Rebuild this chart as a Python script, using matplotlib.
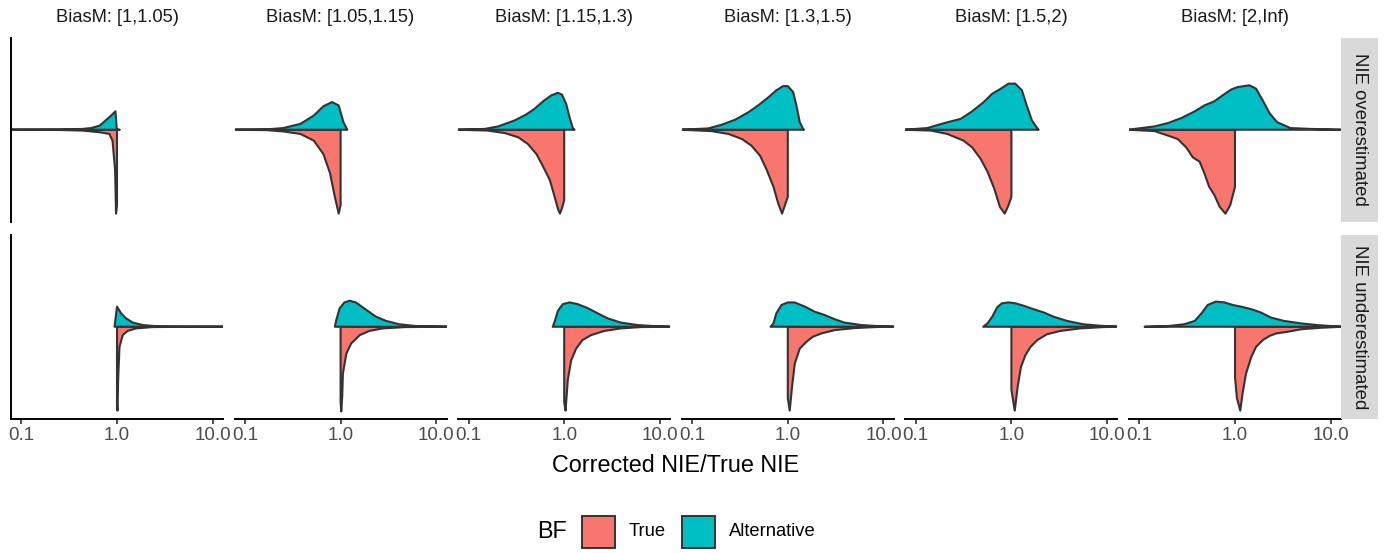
import numpy as np
import matplotlib.pyplot as plt
from matplotlib.patches import Rectangle

# facet labels
bias_labels = ["BiasM: [1,1.05)", "BiasM: [1.05,1.15)", "BiasM: [1.15,1.3)",
               "BiasM: [1.3,1.5)", "BiasM: [1.5,2)", "BiasM: [2,Inf)"]
row_labels = ["NIE overestimated", "NIE underestimated"]
bf_labels = ["True", "Alternative"]
bf_colors = ["#F8766D", "#00BFC4"]

# densities: x = log10(Corrected NIE/True NIE), h = scaled density
# "Alternative" is drawn upwards, "True" downwards
over_alt_x = [
    [-1.12, -0.6, -0.36, -0.27, -0.18, -0.08, -0.016, -0.002, 0.026],
    [-1.12, -0.77, -0.6, -0.42, -0.28, -0.18, -0.09, -0.02, 0.03, 0.07],
    [-1.12, -0.83, -0.69, -0.52, -0.40, -0.31, -0.22, -0.135, -0.066, -0.024, 0.02, 0.056, 0.09, 0.108],
    [-1.12, -0.83, -0.69, -0.55, -0.41, -0.31, -0.20, -0.12, -0.05, 0.0, 0.056, 0.09, 0.125, 0.16, 0.17],
    [-1.12, -0.88, -0.70, -0.53, -0.41, -0.29, -0.20, -0.11, -0.03, 0.04, 0.11, 0.16, 0.215, 0.27, 0.285],
    [-1.12, -0.84, -0.70, -0.56, -0.42, -0.32, -0.215, -0.13, -0.04, 0.03, 0.15, 0.22, 0.29, 0.36, 0.44, 0.58, 0.79, 1.12],
]
over_alt_h = [
    [0, 0.003, 0.01, 0.02, 0.05, 0.15, 0.22, 0.0, 0.0],
    [0, 0.005, 0.02, 0.07, 0.17, 0.28, 0.33, 0.29, 0.09, 0],
    [0, 0.01, 0.04, 0.11, 0.18, 0.25, 0.34, 0.41, 0.44, 0.42, 0.31, 0.15, 0.02, 0],
    [0, 0.016, 0.06, 0.12, 0.21, 0.29, 0.39, 0.47, 0.52, 0.52, 0.45, 0.29, 0.09, 0.01, 0],
    [0, 0.02, 0.08, 0.13, 0.22, 0.33, 0.43, 0.49, 0.55, 0.55, 0.47, 0.29, 0.11, 0.02, 0],
    [0, 0.04, 0.08, 0.14, 0.22, 0.29, 0.34, 0.41, 0.48, 0.51, 0.53, 0.49, 0.35, 0.20, 0.09, 0.02, 0.01, 0],
]
over_true_x = [
    [-1.12, -0.6, -0.36, -0.18, -0.08, -0.047, -0.02, -0.01, 0.0, 0.0],
    [-1.12, -0.77, -0.6, -0.42, -0.28, -0.18, -0.11, -0.06, -0.02, 0.0, 0.0],
    [-1.12, -0.80, -0.62, -0.48, -0.38, -0.29, -0.22, -0.15, -0.10, -0.066, -0.045, -0.024, 0.0, 0.0],
    [-1.12, -0.80, -0.62, -0.48, -0.38, -0.29, -0.22, -0.15, -0.10, -0.06, -0.03, 0.0, 0.0],
    [-1.12, -0.84, -0.67, -0.50, -0.41, -0.32, -0.25, -0.18, -0.12, -0.07, -0.03, 0.0, 0.0],
    [-1.12, -0.84, -0.70, -0.60, -0.51, -0.44, -0.37, -0.32, -0.27, -0.215, -0.16, -0.10, -0.05, 0.0, 0.0],
]
over_true_h = [
    [0, 0.003, 0.01, 0.03, 0.05, 0.13, 0.48, 1.0, 0.9, 0],
    [0, 0.005, 0.02, 0.05, 0.13, 0.29, 0.52, 0.8, 1.0, 0.9, 0],
    [0, 0.01, 0.04, 0.09, 0.17, 0.29, 0.44, 0.60, 0.80, 0.94, 1.0, 0.94, 0.84, 0],
    [0, 0.016, 0.05, 0.11, 0.19, 0.31, 0.48, 0.68, 0.88, 1.0, 0.9, 0.8, 0],
    [0, 0.01, 0.05, 0.13, 0.21, 0.35, 0.50, 0.70, 0.92, 1.0, 0.9, 0.8, 0],
    [0, 0.016, 0.07, 0.11, 0.21, 0.33, 0.38, 0.52, 0.68, 0.78, 0.92, 1.0, 0.9, 0.68, 0],
]
under_alt_x = [
    [-0.026, 0.0, 0.043, 0.095, 0.165, 0.27, 0.44, 0.7, 1.12],
    [-0.06, -0.045, -0.01, 0.04, 0.094, 0.16, 0.27, 0.37, 0.475, 0.61, 0.79, 1.12],
    [-0.12, -0.10, -0.066, -0.014, 0.056, 0.14, 0.25, 0.35, 0.455, 0.59, 0.77, 0.94, 1.12],
    [-0.18, -0.15, -0.12, -0.066, 0.0, 0.07, 0.18, 0.28, 0.385, 0.49, 0.59, 0.77, 0.94, 1.12],
    [-0.295, -0.25, -0.20, -0.15, -0.10, -0.03, 0.04, 0.13, 0.23, 0.34, 0.44, 0.58, 0.75, 0.93, 1.12],
    [-0.945, -0.70, -0.53, -0.42, -0.35, -0.285, -0.20, -0.11, -0.024, 0.06, 0.17, 0.27, 0.375, 0.51, 0.69, 0.86, 1.12],
]
under_alt_h = [
    [0, 0.24, 0.16, 0.10, 0.05, 0.02, 0.004, 0.001, 0],
    [0, 0.08, 0.22, 0.29, 0.31, 0.29, 0.20, 0.12, 0.07, 0.03, 0.008, 0],
    [0, 0.06, 0.19, 0.27, 0.29, 0.27, 0.22, 0.16, 0.10, 0.05, 0.02, 0.008, 0],
    [0, 0.04, 0.16, 0.26, 0.29, 0.29, 0.24, 0.18, 0.14, 0.09, 0.05, 0.02, 0.008, 0],
    [0, 0.04, 0.12, 0.23, 0.28, 0.29, 0.28, 0.25, 0.21, 0.17, 0.12, 0.07, 0.03, 0.012, 0],
    [0, 0.008, 0.03, 0.07, 0.16, 0.26, 0.30, 0.29, 0.26, 0.24, 0.21, 0.17, 0.11, 0.07, 0.04, 0.02, 0],
]
under_true_x = [
    [0.0, 0.0, 0.005, 0.012, 0.026, 0.06, 0.11, 0.2, 0.37, 0.7, 1.12],
    [0.0, 0.0, 0.007, 0.017, 0.024, 0.06, 0.11, 0.20, 0.30, 0.44, 0.68, 1.12],
    [0.0, 0.0, 0.014, 0.038, 0.073, 0.125, 0.19, 0.28, 0.42, 0.59, 0.80, 1.12],
    [0.0, 0.0, 0.02, 0.045, 0.073, 0.125, 0.195, 0.26, 0.35, 0.49, 0.70, 0.91, 1.12],
    [0.0, 0.0, 0.035, 0.066, 0.10, 0.146, 0.20, 0.27, 0.37, 0.51, 0.72, 0.96, 1.12],
    [0.0, 0.0, 0.02, 0.055, 0.08, 0.115, 0.17, 0.22, 0.29, 0.36, 0.43, 0.55, 0.69, 0.90, 1.12],
]
under_true_h = [
    [0, 0.9, 1.0, 0.63, 0.24, 0.10, 0.05, 0.02, 0.004, 0.001, 0],
    [0, 0.9, 1.01, 0.83, 0.56, 0.32, 0.2, 0.1, 0.05, 0.02, 0.004, 0],
    [0, 0.9, 1.0, 0.63, 0.40, 0.26, 0.16, 0.10, 0.05, 0.02, 0.004, 0],
    [0, 0.85, 1.0, 0.71, 0.44, 0.26, 0.18, 0.12, 0.08, 0.04, 0.016, 0.004, 0],
    [0, 0.75, 1.0, 0.71, 0.48, 0.34, 0.24, 0.16, 0.09, 0.05, 0.02, 0.004, 0],
    [0, 0.6, 0.85, 1.0, 0.79, 0.56, 0.36, 0.24, 0.16, 0.11, 0.08, 0.06, 0.03, 0.012, 0],
]

x_ticks = [0.1, 1.0, 10.0]
x_ticklabels = ["0.1", "1.0", "10.0"]

plt.rcParams['font.family'] = ['Liberation Sans', 'DejaVu Sans']

W, H = 1386, 553
fig = plt.figure(figsize=(W / 100, H / 100), dpi=100)


def px_axes(left, top, right, bottom):
    return fig.add_axes([left / W, 1 - bottom / H, (right - left) / W, (bottom - top) / H])


rows = [
    (over_alt_x, over_alt_h, over_true_x, over_true_h),
    (under_alt_x, under_alt_h, under_true_x, under_true_h),
]
row_tops = [37.5, 234.5]
row_bottoms = [222, 419]
edge = "#333333"

for r, (ax_x, ax_h, tr_x, tr_h) in enumerate(rows):
    for c in range(6):
        left = 11 + 223.6 * c
        ax = px_axes(left, row_tops[r], left + 212, row_bottoms[r])
        ax.set_xscale("log")
        ax.set_xlim(10 ** -1.108, 10 ** 1.108)
        ax.set_ylim(-1.1, 1.1)

        xa = 10 ** np.array(ax_x[c])
        ya = np.array(ax_h[c])
        xt = 10 ** np.array(tr_x[c])
        yt = -np.array(tr_h[c])
        ax.fill(xt, yt, facecolor=bf_colors[0], edgecolor=edge, lw=1.5, joinstyle="round")
        ax.fill(xa, ya, facecolor=bf_colors[1], edgecolor=edge, lw=1.5, joinstyle="round")

        for s in ["top", "right"]:
            ax.spines[s].set_visible(False)
        ax.spines["left"].set_visible(c == 0)
        ax.spines["bottom"].set_visible(r == 1)
        for s in ["left", "bottom"]:
            ax.spines[s].set_linewidth(1.4)
            ax.spines[s].set_color("black")
        ax.set_yticks([])
        ax.minorticks_off()
        if r == 1:
            ax.set_xticks(x_ticks)
            ax.set_xticklabels(x_ticklabels)
            ax.tick_params(axis="x", length=3.5, width=1.2, color=edge,
                           labelcolor="#4D4D4D", labelsize=13.6, pad=2.5)
        else:
            ax.set_xticks([])
        if r == 0:
            ax.text(0.5, 1 + 20 / 184.5, bias_labels[c], transform=ax.transAxes,
                    ha="center", va="center", fontsize=13.2, color="#1A1A1A")

    # right strip
    top, bot = row_tops[r], row_bottoms[r]
    fig.patches.append(Rectangle((1341 / W, 1 - bot / H), 37 / W, (bot - top) / H,
                                 transform=fig.transFigure, facecolor="#D9D9D9",
                                 edgecolor="none"))
    fig.text(1359.5 / W, 1 - (top + bot) / 2 / H, row_labels[r], rotation=-90,
             ha="center", va="center", fontsize=13.4, color="#1A1A1A")

fig.text(676 / W, 1 - 466 / H, "Corrected NIE/True NIE", ha="center", va="center",
         fontsize=16.8, color="black")

# legend
leg_y = 532
fig.text(537 / W, 1 - leg_y / H, "BF", ha="left", va="center", fontsize=16.8, color="black")
for i, (lab, col) in enumerate(zip(bf_labels, bf_colors)):
    bx = 582 + 100 * i
    fig.patches.append(Rectangle((bx / W, 1 - 548 / H), 33 / W, 32 / H,
                                 transform=fig.transFigure, facecolor=col,
                                 edgecolor=edge, lw=1.4))
    fig.text((bx + 47) / W, 1 - leg_y / H, lab, ha="left", va="center",
             fontsize=13.2, color="black")

fig.savefig("out.png", dpi=100, facecolor="white")
